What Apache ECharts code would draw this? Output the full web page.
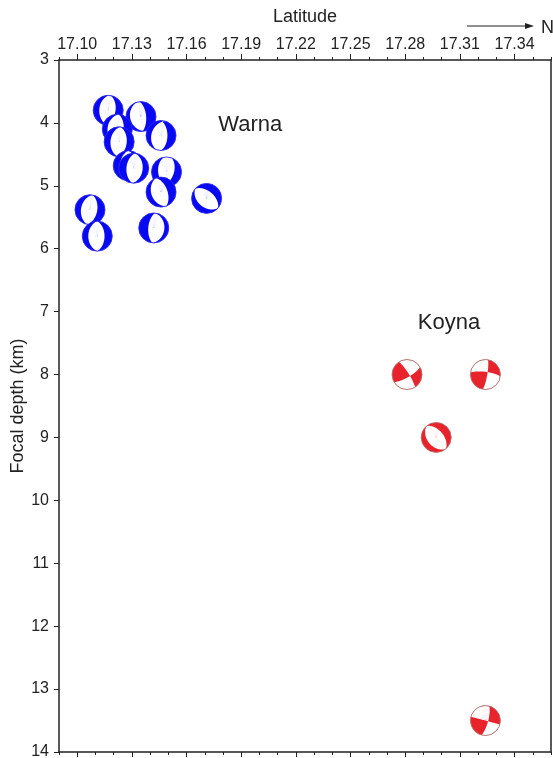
<!DOCTYPE html>
<html>
<head>
<meta charset="utf-8">
<script src="https://cdn.jsdelivr.net/npm/echarts@6/dist/echarts.min.js"></script>
<style>
  html, body { margin: 0; padding: 0; background: #fff; }
  #chart { width: 553px; height: 758px; }
</style>
</head>
<body>
<div id="chart"></div>
<script>
// Axis ticks
const latTicks = [17.10, 17.13, 17.16, 17.19, 17.22, 17.25, 17.28, 17.31, 17.34];
const latMinorTicks = [17.09, 17.10, 17.11, 17.12, 17.13, 17.14, 17.15, 17.16, 17.17, 17.18,
  17.19, 17.20, 17.21, 17.22, 17.23, 17.24, 17.25, 17.26, 17.27, 17.28, 17.29, 17.30,
  17.31, 17.32, 17.33, 17.34, 17.35, 17.36];
const depthTicks = [3, 4, 5, 6, 7, 8, 9, 10, 11, 12, 13, 14];

// Warna events: location and focal mechanism (strike, dip, rake in degrees)
const warnaLat    = [17.117, 17.135, 17.122, 17.146, 17.123, 17.128, 17.131, 17.149, 17.146, 17.171, 17.107, 17.111, 17.142];
const warnaDepth  = [3.8, 3.9, 4.1, 4.2, 4.3, 4.68, 4.72, 4.78, 5.1, 5.2, 5.38, 5.8, 5.67];
const warnaStrike = [10, 355, 5, 0, 5, 0, 185, 20, 340, 310, 10, 0, 185];
const warnaDip    = [50, 62, 55, 55, 48, 45, 50, 50, 55, 50, 50, 50, 60];
const warnaRake   = [-85, -85, -90, -100, -90, -90, -90, -70, -90, -90, -90, -90, -90];

// Koyna events
const koynaLat    = [17.281, 17.324, 17.297, 17.324];
const koynaDepth  = [8.0, 8.0, 9.0, 13.5];
const koynaStrike = [60, 10, 320, 15];
const koynaDip    = [75, 80, 50, 75];
const koynaRake   = [10, 15, -90, 0];

// Region labels
const regionNames = ['Warna', 'Koyna'];
const regionLat   = [17.195, 17.304];
const regionDepth = [4.03, 7.18];

const FONT = 'Liberation Sans, Arial, Helvetica, sans-serif';
const TEXT = '#222';
const D2R = Math.PI / 180;

function faultVectors(strike, dip, rake) {
  const s = strike * D2R, d = dip * D2R, r = rake * D2R;
  // north, east, down
  const n = [-Math.sin(d) * Math.sin(s), Math.sin(d) * Math.cos(s), -Math.cos(d)];
  const u = [Math.cos(r) * Math.cos(s) + Math.cos(d) * Math.sin(r) * Math.sin(s),
             Math.cos(r) * Math.sin(s) - Math.cos(d) * Math.sin(r) * Math.cos(s),
             -Math.sin(r) * Math.sin(d)];
  return [n, u];
}

// P-wave polarity at azimuth az, normalized equal-area radius rho
function polarity(vs, az, rho) {
  const psi = Math.PI / 2 - 2 * Math.asin(rho / Math.SQRT2);
  const c = Math.cos(psi);
  const g = [c * Math.cos(az), c * Math.sin(az), Math.sin(psi)];
  const dot = v => v[0] * g[0] + v[1] * g[1] + v[2] * g[2];
  return dot(vs[0]) * dot(vs[1]);
}

// Radial intervals of dilatation along one azimuth
function whiteIntervals(vs, az) {
  const bps = [];
  for (const v of vs) {
    const a = v[0] * Math.cos(az) + v[1] * Math.sin(az), b = v[2];
    if (Math.abs(b) < 1e-9) continue;
    const psi = Math.atan(-a / b);
    if (psi > 0 && psi < Math.PI / 2) bps.push(Math.SQRT2 * Math.sin((Math.PI / 2 - psi) / 2));
  }
  bps.sort((p, q) => p - q);
  const edges = [0, ...bps, 1];
  const out = [];
  for (let k = 0; k < edges.length - 1; k++) {
    const lo = edges[k], hi = edges[k + 1];
    if (hi - lo < 1e-7) continue;
    if (polarity(vs, az, (lo + hi) / 2) < 0) {
      if (out.length && Math.abs(out[out.length - 1][1] - lo) < 1e-7) out[out.length - 1][1] = hi;
      else out.push([lo, hi]);
    }
  }
  return out;
}

function dilatationPath(cx, cy, R, vs) {
  const N = 240;
  const pt = (rho, az) => (cx + rho * R * Math.sin(az)).toFixed(2) + ',' + (cy - rho * R * Math.cos(az)).toFixed(2);
  let path = '';
  let prev = whiteIntervals(vs, 0);
  for (let i = 0; i < N; i++) {
    const a0 = i / N * 2 * Math.PI, a1 = (i + 1) / N * 2 * Math.PI;
    const next = whiteIntervals(vs, a1);
    if (next.length === prev.length) {
      for (let k = 0; k < next.length; k++) {
        path += 'M' + pt(prev[k][0], a0) + 'L' + pt(prev[k][1], a0) + 'L' + pt(next[k][1], a1) + 'L' + pt(next[k][0], a1) + 'Z';
      }
    } else {
      const mid = whiteIntervals(vs, (a0 + a1) / 2);
      for (const [p, q] of mid) {
        path += 'M' + pt(p, a0) + 'L' + pt(q, a0) + 'L' + pt(q, a1) + 'L' + pt(p, a1) + 'Z';
      }
    }
    prev = next;
  }
  return path;
}

function beachBall(color, edge) {
  return function (params, api) {
    const c = api.coord([api.value(0), api.value(1)]);
    const R = 15;
    const vs = faultVectors(api.value(2), api.value(3), api.value(4));
    const children = [
      { type: 'circle', shape: { cx: c[0], cy: c[1], r: R }, style: { fill: color } }
    ];
    const d = dilatationPath(c[0], c[1], R, vs);
    if (d) children.push({ type: 'path', shape: { pathData: d }, style: { fill: '#fff' } });
    children.push({ type: 'circle', shape: { cx: c[0], cy: c[1], r: R }, style: { fill: 'none', stroke: edge, lineWidth: 0.9 } });
    return { type: 'group', children };
  };
}

function rows(lat, depth, strike, dip, rake) {
  return lat.map((v, i) => [v, depth[i], strike[i], dip[i], rake[i]]);
}

const xCommon = { type: 'value', min: 17.09, max: 17.36, splitLine: { show: false } };
const yCommon = { type: 'value', min: 3, max: 14, interval: 1, inverse: true, splitLine: { show: false } };
const lineStyle = { color: TEXT, width: 1.5 };

const chart = echarts.init(document.getElementById('chart'), null, { renderer: 'canvas' });
chart.setOption({
  animation: false,
  backgroundColor: '#fff',
  grid: { left: 59, right: 2, top: 60, bottom: 6, containLabel: false, outerBoundsMode: 'none' },
  xAxis: [
    Object.assign({}, xCommon, {
      position: 'top',
      axisLine: { show: true, lineStyle },
      axisTick: { show: true, length: 6, customValues: latTicks, lineStyle: { color: TEXT, width: 1 } },
      axisLabel: { show: true, customValues: latTicks, formatter: v => v.toFixed(2), fontSize: 16, color: TEXT, fontFamily: FONT, margin: 7 },
      name: 'Latitude', nameLocation: 'middle', nameGap: 34, nameMoveOverlap: false,
      nameTextStyle: { fontSize: 18, color: TEXT, fontFamily: FONT }
    }),
    Object.assign({}, xCommon, {
      position: 'top',
      axisLine: { show: false },
      axisTick: { show: true, length: 3, customValues: latMinorTicks, lineStyle: { color: TEXT, width: 1 } },
      axisLabel: { show: false }
    }),
    Object.assign({}, xCommon, {
      position: 'bottom',
      axisLine: { show: true, lineStyle },
      axisTick: { show: true, length: 5, customValues: latTicks, lineStyle: { color: TEXT, width: 1 } },
      axisLabel: { show: false }
    }),
    Object.assign({}, xCommon, {
      position: 'bottom',
      axisLine: { show: false },
      axisTick: { show: true, length: 3, customValues: latMinorTicks, lineStyle: { color: TEXT, width: 1 } },
      axisLabel: { show: false }
    })
  ],
  yAxis: [
    Object.assign({}, yCommon, {
      position: 'left',
      axisLine: { show: true, lineStyle },
      axisTick: { show: true, length: 5, customValues: depthTicks, lineStyle: { color: TEXT, width: 1 } },
      axisLabel: { show: true, customValues: depthTicks, fontSize: 16, color: TEXT, fontFamily: FONT, margin: 10 },
      name: 'Focal depth (km)', nameLocation: 'middle', nameGap: 32, nameMoveOverlap: false,
      nameTextStyle: { fontSize: 18, color: TEXT, fontFamily: FONT }
    }),
    Object.assign({}, yCommon, {
      position: 'right',
      axisLine: { show: true, lineStyle },
      axisTick: { show: false },
      axisLabel: { show: false }
    })
  ],
  graphic: [
    { type: 'line', shape: { x1: 467, y1: 26, x2: 527, y2: 26 }, style: { stroke: TEXT, lineWidth: 1.2 } },
    { type: 'polygon', shape: { points: [[534, 26], [525, 23], [525, 29]] }, style: { fill: TEXT } },
    { type: 'text', x: 541, y: 28, style: { text: 'N', fontSize: 18, fill: TEXT, fontFamily: FONT, verticalAlign: 'middle' } }
  ],
  series: [
    {
      type: 'custom', xAxisIndex: 0, yAxisIndex: 0, clip: false,
      renderItem: beachBall('#0808f2', '#2a2af0'),
      data: rows(warnaLat, warnaDepth, warnaStrike, warnaDip, warnaRake)
    },
    {
      type: 'custom', xAxisIndex: 0, yAxisIndex: 0, clip: false,
      renderItem: beachBall('#e8232b', '#b07070'),
      data: rows(koynaLat, koynaDepth, koynaStrike, koynaDip, koynaRake)
    },
    {
      type: 'custom', xAxisIndex: 0, yAxisIndex: 0,
      renderItem: function (params, api) {
        const c = api.coord([api.value(0), api.value(1)]);
        return { type: 'text', x: c[0], y: c[1], style: { text: regionNames[params.dataIndex], fontSize: 22, fill: TEXT, fontFamily: FONT, align: 'center', verticalAlign: 'middle' } };
      },
      data: regionLat.map((v, i) => [v, regionDepth[i]])
    }
  ]
});
</script>
</body>
</html>
